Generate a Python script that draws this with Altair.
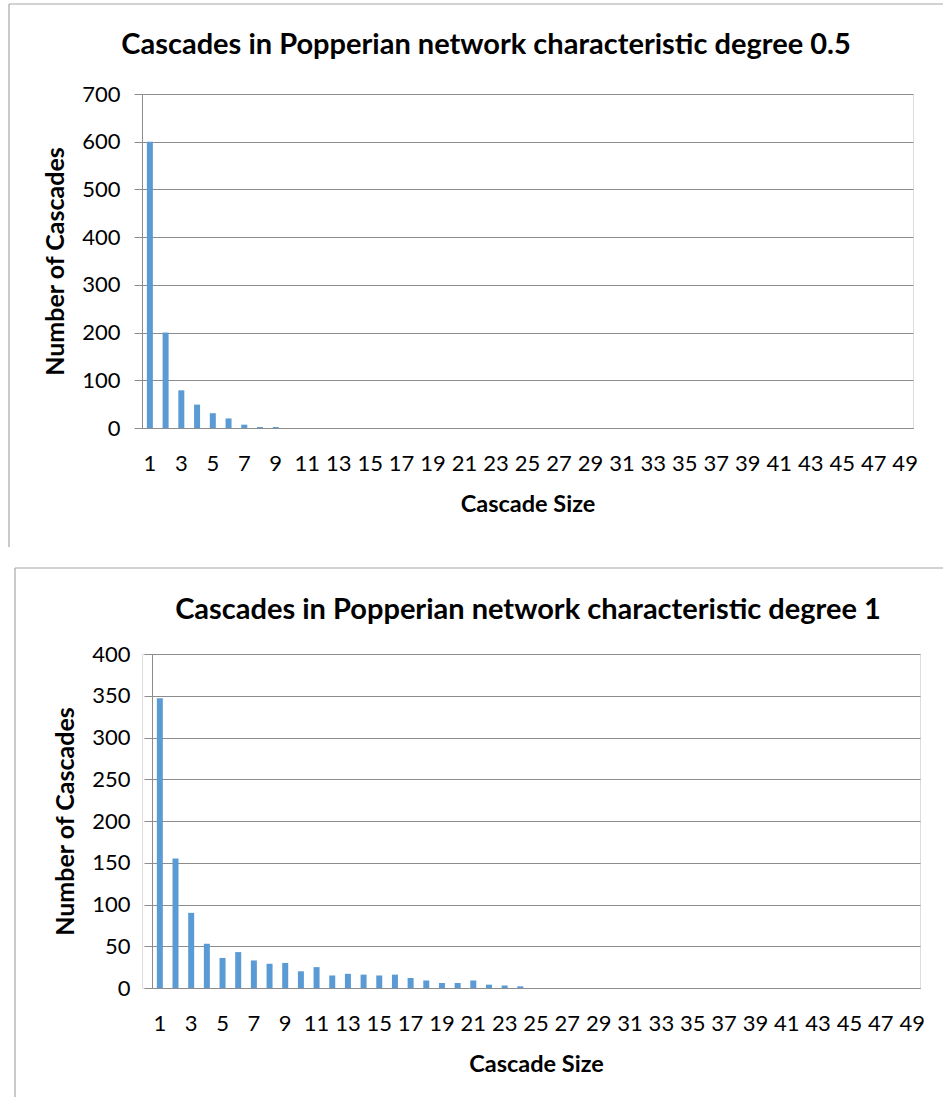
import altair as alt
import pandas as pd

# ---- data ----
cascade_sizes = list(range(1, 50))
counts_deg05 = [600, 200, 79, 49, 31, 20, 7, 2, 2] + [0] * 40
counts_deg1 = [347, 155, 90, 53, 36, 43, 33, 29, 30, 20, 25, 15, 17, 16, 15, 16,
               12, 9, 6, 6, 9, 4, 3, 2] + [0] * 25
x_tick_labels = list(range(1, 50, 2))
title_top = "Cascades in Popperian network characteristic degree 0.5"
title_bottom = "Cascades in Popperian network characteristic degree 1"
x_title = "Cascade Size"
y_title = "Number of Cascades"

FONT = "Lato"
BAR = "#5B9BD5"
GRID = "#8C8C8C"
BOX = "#A6A6A6"


def one():
    return pd.DataFrame({"k": [0]})


def panel(counts, title, ymax, ystep, W, H, x0, tx, ty, box_left, box_top,
          box_bottom, box_right):
    df = pd.DataFrame({"size": cascade_sizes, "count": counts})
    xscale = alt.Scale(paddingInner=0, paddingOuter=0)
    if x0:
        xscale = alt.Scale(paddingInner=0, paddingOuter=0, range=[x0, W])
    bars = alt.Chart(df).mark_bar(color=BAR, size=6).encode(
        x=alt.X("size:O", scale=xscale,
                axis=alt.Axis(values=x_tick_labels, labelAngle=0, ticks=False,
                              labelOverlap=False, labelFont=FONT,
                              labelFontSize=22, labelColor="#000000",
                              labelPadding=25, domainColor=GRID,
                              title=x_title, titleFont=FONT,
                              titleFontSize=23.5, titleFontWeight="bold",
                              titlePadding=18, titleColor="#000000")),
        y=alt.Y("count:Q",
                scale=alt.Scale(domain=[0, ymax], nice=False),
                axis=alt.Axis(values=list(range(0, ymax + 1, ystep)),
                              offset=-x0,
                              grid=True, gridColor=GRID, tickColor=GRID,
                              tickSize=8, domainColor=GRID, labelFont=FONT,
                              labelFontSize=22, labelColor="#000000",
                              labelPadding=14, title=y_title, titleFont=FONT,
                              titleFontSize=25, titleFontWeight="bold",
                              titlePadding=13, titleColor="#000000")),
    ).properties(width=W, height=H)

    ttl = alt.Chart(one()).mark_text(font=FONT, fontSize=29, fontWeight="bold",
                                     color="#000000", baseline="middle",
                                     align="center").encode(
        x=alt.value(tx), y=alt.value(ty), text=alt.value(title))

    layers = [bars, ttl]
    rule = dict(color=BOX, strokeWidth=1.2)
    layers.append(alt.Chart(one()).mark_rule(**rule).encode(
        x=alt.value(box_left), y=alt.value(box_top),
        y2=alt.value(box_bottom)))
    layers.append(alt.Chart(one()).mark_rule(**rule).encode(
        x=alt.value(box_left), x2=alt.value(box_right),
        y=alt.value(box_top)))
    if box_bottom < 440:
        layers.append(alt.Chart(one()).mark_rule(**rule).encode(
            x=alt.value(box_left), x2=alt.value(box_right),
            y=alt.value(box_bottom)))
    return alt.layer(*layers)


# both plot origins share one x; the lower panel is shifted 10px inside
top = panel(counts_deg05, title_top, 700, 100, 771, 334, 0,
            tx=344, ty=-49, box_left=-133, box_top=-90, box_bottom=453,
            box_right=943 - 142)
bottom = panel(counts_deg1, title_bottom, 400, 50, 778, 334, 10,
               tx=386, ty=-44, box_left=-127, box_top=-86, box_bottom=447,
               box_right=943 - 142)

chart = alt.concat(top, bottom, columns=1, spacing=17).properties(
    padding={"left": 7, "top": 2, "right": 0, "bottom": 0}
).configure_view(stroke=None).configure(font=FONT, background="#ffffff")

chart.save("out.html", embed_options={"renderer": "svg", "actions": False})
